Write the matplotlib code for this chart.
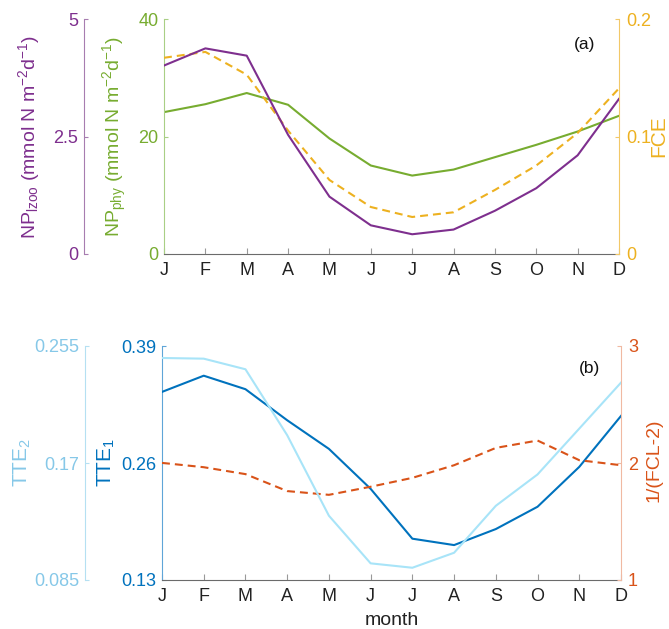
import matplotlib
matplotlib.use("Agg")
import matplotlib.pyplot as plt
import numpy as np

plt.rcParams['font.family'] = ['Liberation Sans', 'DejaVu Sans']
plt.rcParams['mathtext.default'] = 'regular'

months = ['J', 'F', 'M', 'A', 'M', 'J', 'J', 'A', 'S', 'O', 'N', 'D']
x = np.arange(1, 13)

# Panel (a)
np_lzoo = [4.01, 4.375, 4.22, 2.535, 1.22, 0.61, 0.42, 0.52, 0.92, 1.40, 2.10, 3.30]
np_phy = [24.15, 25.5, 27.4, 25.4, 19.66, 15.06, 13.35, 14.37, 16.48, 18.58, 20.85, 23.52]
fce = [0.167, 0.172, 0.1526, 0.105, 0.063, 0.040, 0.0315, 0.0355, 0.0545, 0.0753, 0.103, 0.141]

# Panel (b)
tte1 = [0.339, 0.357, 0.342, 0.3075, 0.2757, 0.2313, 0.1759, 0.1688, 0.1866, 0.2114, 0.2557, 0.3123]
tte2 = [0.2463, 0.2458, 0.2381, 0.1902, 0.1317, 0.0971, 0.0939, 0.1048, 0.1389, 0.1617, 0.1950, 0.2284]
inv_fcl = [2.001, 1.964, 1.905, 1.76, 1.728, 1.797, 1.873, 1.981, 2.129, 2.192, 2.024, 1.981]

PURPLE = '#7E2F8E'
GREEN = '#77AC30'
ORANGE = '#EDB120'
BLUE = '#0072BD'
LBLUE_LINE = '#A8E4F8'
LBLUE_TXT = '#86C8E8'
RED = '#D95319'
GRAY = '#6b6b6b'

W, H = 669, 629
fig = plt.figure(figsize=(W / 100, H / 100), dpi=100)

TICK_FS = 13
LABEL_FS = 14
DASH = (0, (3.8, 2.4))


def frac_rect(l, r, t, b):
    return [l / W, (H - b) / H, (r - l) / W, (b - t) / H]


def setup_main(ax, color, spine_color):
    ax.set_xlim(1, 12)
    ax.set_xticks(x)
    ax.set_xticklabels(months)
    ax.spines['top'].set_visible(False)
    ax.spines['right'].set_visible(False)
    ax.spines['bottom'].set_color(GRAY)
    ax.spines['left'].set_color(spine_color)
    ax.tick_params(axis='x', direction='in', length=4, color='#999999',
                   labelsize=TICK_FS, pad=6, labelcolor='#222222')
    ax.tick_params(axis='y', direction='in', length=3, color=spine_color,
                   labelsize=TICK_FS, pad=4, labelcolor=color)
    ax.patch.set_visible(False)


def setup_right(axr, color, spine_color):
    for s in ['top', 'bottom', 'left']:
        axr.spines[s].set_visible(False)
    axr.spines['right'].set_color(spine_color)
    axr.tick_params(axis='y', direction='in', length=3, color=spine_color,
                    labelsize=TICK_FS, pad=5, labelcolor=color)


def setup_outer(axo, offset, color, spine_color):
    for s in ['top', 'bottom', 'right']:
        axo.spines[s].set_visible(False)
    axo.spines['left'].set_visible(True)
    axo.spines['left'].set_position(('axes', offset))
    axo.spines['left'].set_color(spine_color)
    axo.yaxis.set_ticks_position('left')
    axo.yaxis.set_label_position('left')
    axo.tick_params(axis='y', direction='in', length=3, color=spine_color,
                    labelsize=TICK_FS, pad=4, labelcolor=color)


def place_label(ax, text, color, xpx, ycenter_frac, left_px, width_px, fs=LABEL_FS):
    ax.set_ylabel(text, color=color, fontsize=fs)
    ax.yaxis.label.set_verticalalignment('center')
    ax.yaxis.label.set_horizontalalignment('center')
    ax.yaxis.set_label_coords((xpx - left_px) / width_px, ycenter_frac)


# ---------------- Panel (a) ----------------
La, Ra, Ta, Ba = 164, 619, 19, 254
axa = fig.add_axes(frac_rect(La, Ra, Ta, Ba))
setup_main(axa, GREEN, '#A9CF85')
axa.set_ylim(0, 40)
axa.set_yticks([0, 20, 40])
axa.plot(x, np_phy, color=GREEN, lw=1.5)

axa_r = axa.twinx()
setup_right(axa_r, ORANGE, '#F2C868')
axa_r.set_ylim(0, 0.2)
axa_r.set_yticks([0, 0.1, 0.2])
axa_r.set_yticklabels(['0', '0.1', '0.2'])
axa_r.plot(x, fce, color=ORANGE, lw=1.5, linestyle=DASH)

axa_o = axa.twinx()
setup_outer(axa_o, (84 - La) / (Ra - La), PURPLE, '#A77DB0')
axa_o.set_ylim(0, 5)
axa_o.set_yticks([0, 2.5, 5])
axa_o.set_yticklabels(['0', '2.5', '5'])
axa_o.plot(x, np_lzoo, color=PURPLE, lw=1.5)

place_label(axa, 'NP$_{phy}$ (mmol N m$^{-2}$d$^{-1}$)', GREEN, 115, 0.5, La, Ra - La)
place_label(axa_o, 'NP$_{lzoo}$ (mmol N m$^{-2}$d$^{-1}$)', PURPLE, 29, 0.5, La, Ra - La)
axa_r.set_ylabel('FCE', color=ORANGE, fontsize=15)
axa_r.yaxis.label.set_verticalalignment('center')
axa_r.yaxis.set_label_coords((659 - La) / (Ra - La), 0.5)
axa.text((585 - La) / (Ra - La), (Ba - 45) / (Ba - Ta), '(a)', transform=axa.transAxes,
         fontsize=12.5, ha='center', va='center', color='#111111')

# ---------------- Panel (b) ----------------
Lb, Rb, Tb, Bb = 162, 621, 346, 580
axb = fig.add_axes(frac_rect(Lb, Rb, Tb, Bb))
setup_main(axb, BLUE, '#5FA5D8')
axb.set_ylim(0.13, 0.39)
axb.set_yticks([0.13, 0.26, 0.39])
axb.set_yticklabels(['0.13', '0.26', '0.39'])
axb.plot(x, tte1, color=BLUE, lw=1.5, zorder=3)

axb_r = axb.twinx()
setup_right(axb_r, RED, '#F0B9A2')
axb_r.set_ylim(1, 3)
axb_r.set_yticks([1, 2, 3])
axb_r.plot(x, inv_fcl, color=RED, lw=1.5, linestyle=DASH)

axb_o = axb.twinx()
setup_outer(axb_o, (85 - Lb) / (Rb - Lb), LBLUE_TXT, '#B5E0F2')
axb_o.set_ylim(0.085, 0.255)
axb_o.set_yticks([0.085, 0.17, 0.255])
axb_o.set_yticklabels(['0.085', '0.17', '0.255'])
axb_o.plot(x, tte2, color=LBLUE_LINE, lw=1.5, zorder=1)

place_label(axb, 'TTE$_1$', BLUE, 106, 0.5, Lb, Rb - Lb, fs=15)
place_label(axb_o, 'TTE$_2$', LBLUE_TXT, 22, 0.5, Lb, Rb - Lb, fs=15)
axb_r.set_ylabel('1/(FCL-2)', color=RED, fontsize=14)
axb_r.yaxis.label.set_verticalalignment('center')
axb_r.yaxis.set_label_coords((654 - Lb) / (Rb - Lb), 0.51)
axb.set_xlabel('month', fontsize=14, color='#222222', labelpad=5)
axb.text((589 - Lb) / (Rb - Lb), (Bb - 368) / (Bb - Tb), '(b)', transform=axb.transAxes,
         fontsize=12.5, ha='center', va='center', color='#111111')

fig.savefig('out.png', dpi=100)
